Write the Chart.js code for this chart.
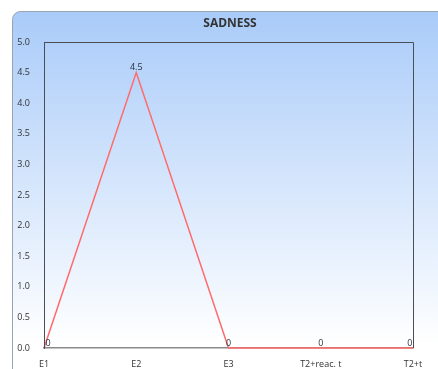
<!DOCTYPE html>
<html>
<head>
<meta charset="utf-8">
<script src="https://cdn.jsdelivr.net/npm/chart.js@4/dist/chart.umd.min.js"></script>
<style>
html,body{margin:0;padding:0;background:#fff;}
#wrap{width:438px;height:369px;position:relative;}
</style>
</head>
<body>
<div id="wrap"><canvas id="c" width="438" height="369"></canvas></div>
<script>
const categories = ["E1", "E2", "E3", "T2+reac. t", "T2+t"];
const sadnessValues = [0, 4.5, 0, 0, 0];
const chartTitle = "SADNESS";

const bgPlugin = {
  id: 'bgPanel',
  beforeDraw(chart) {
    const ctx = chart.ctx;
    ctx.save();
    const g = ctx.createLinearGradient(0, 11, 0, 345);
    g.addColorStop(0, '#a9cbf9');
    g.addColorStop(1, '#ffffff');
    ctx.beginPath();
    ctx.roundRect(12.5, 11.5, 460, 400, 8);
    ctx.fillStyle = g;
    ctx.fill();
    ctx.strokeStyle = '#9aa3b0';
    ctx.lineWidth = 1;
    ctx.stroke();
    // title
    ctx.font = 'bold 12px "Open Sans"';
    ctx.fillStyle = '#333';
    ctx.textAlign = 'center';
    ctx.textBaseline = 'middle';
    ctx.fillText(chartTitle, 230, 24);
    ctx.restore();
  },
  afterDatasetsDraw(chart) {
    const ctx = chart.ctx;
    const a = chart.chartArea;
    ctx.save();
    ctx.lineWidth = 1;
    ctx.strokeStyle = '#4a4f57';
    ctx.beginPath();
    ctx.moveTo(Math.round(a.left) + 0.5, Math.round(a.bottom));
    ctx.lineTo(Math.round(a.left) + 0.5, Math.round(a.top) + 0.5);
    ctx.lineTo(Math.round(a.right) + 0.5, Math.round(a.top) + 0.5);
    ctx.lineTo(Math.round(a.right) + 0.5, Math.round(a.bottom));
    ctx.stroke();
    // value labels
    const meta = chart.getDatasetMeta(0);
    ctx.font = '9px "Open Sans"';
    ctx.fillStyle = '#2b3340';
    ctx.textAlign = 'center';
    ctx.textBaseline = 'bottom';
    meta.data.forEach((pt, i) => {
      const v = chart.data.datasets[0].data[i];
      const txt = String(v);
      const w = ctx.measureText(txt).width;
      let x = pt.x;
      x = Math.max(a.left + w / 2 + 1.5, Math.min(a.right - w / 2 - 0.5, x));
      ctx.fillText(txt, x, pt.y - 0.5);
    });
    ctx.restore();
  }
};

new Chart(document.getElementById('c'), {
  type: 'line',
  data: {
    labels: categories,
    datasets: [{
      label: chartTitle,
      data: sadnessValues,
      borderColor: '#ff6b6b',
      backgroundColor: '#ff6b6b',
      borderWidth: 1.5,
      pointRadius: 0,
      tension: 0,
      fill: false,
      clip: 3
    }]
  },
  options: {
    responsive: false,
    animation: false,
    layout: { padding: { top: 42, left: 0, right: 25, bottom: 0 } },
    plugins: {
      legend: { display: false },
      tooltip: { enabled: false },
      title: { display: false }
    },
    scales: {
      x: {
        offset: false,
        grid: { display: false },
        border: { display: true, color: '#8a8a8a', width: 1.5 },
        ticks: {
          color: '#333',
          font: { family: '"Open Sans"', size: 9 },
          padding: 3,
          maxRotation: 0,
          autoSkip: false
        },
        afterFit(s) { s.height = 21; }
      },
      y: {
        min: 0,
        max: 5,
        grid: { display: false },
        border: { display: true, color: '#4a4f57', width: 1 },
        ticks: {
          stepSize: 0.5,
          color: '#333',
          font: { family: '"Open Sans"', size: 9 },
          padding: 6,
          callback: v => Number(v).toFixed(1)
        },
        afterFit(s) { s.width = 44; }
      }
    }
  },
  plugins: [bgPlugin]
});
</script>
</body>
</html>
